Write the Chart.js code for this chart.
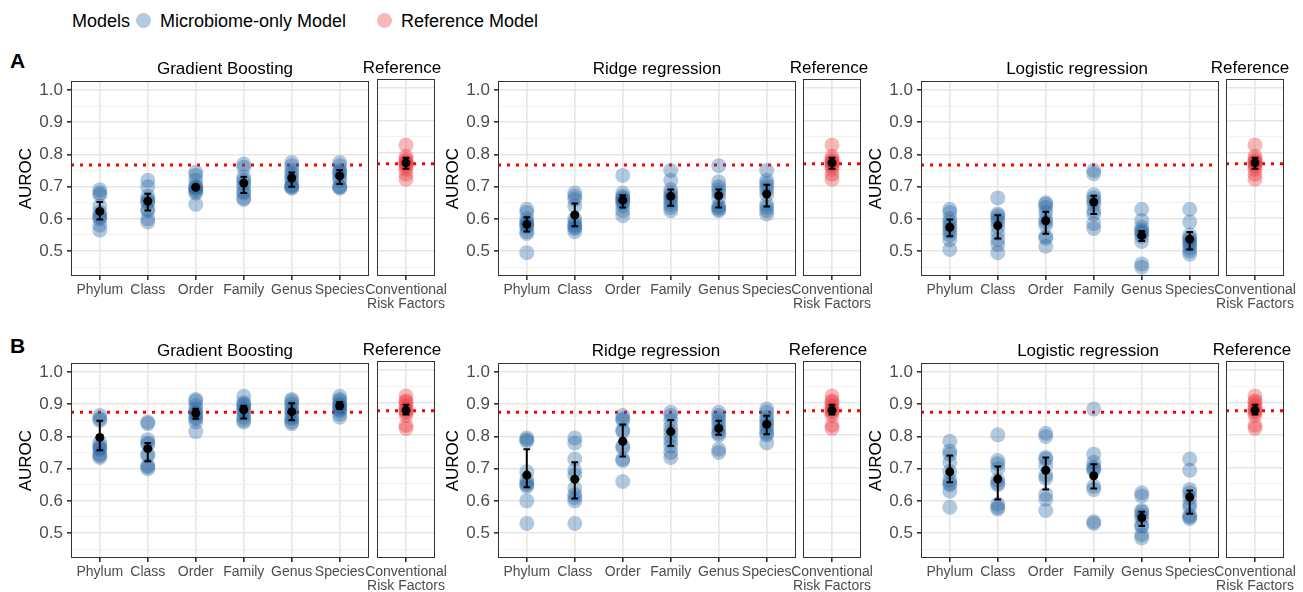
<!DOCTYPE html>
<html lang="en">
<head>
<meta charset="utf-8">
<title>AUROC by taxonomic level</title>
<script src="https://cdn.jsdelivr.net/npm/chart.js@4.4.1/dist/chart.umd.min.js"></script>
<style>
  body { margin: 0; background: #fff; font-family: "Liberation Sans", Arial, sans-serif; }
  #page { position: relative; width: 1303px; height: 592px; overflow: hidden; }
  .box { position: absolute; }
  .txt { position: absolute; white-space: nowrap; color: #000; line-height: 1; }
  .ttl { font-size: 17px; transform: translateX(-50%); }
  .tag { font-size: 21px; font-weight: bold; }
  .dot { position: absolute; width: 15px; height: 15px; border-radius: 50%; }
</style>
</head>
<body>
<div id="page">
  <div class="txt" style="left:72px;top:12px;font-size:18px">Models</div>
  <div class="dot" style="left:136px;top:13px;background:rgba(38,100,160,0.35)"></div>
  <div class="txt" style="left:160px;top:12px;font-size:18px">Microbiome-only Model</div>
  <div class="dot" style="left:377px;top:13px;background:rgba(235,50,55,0.35)"></div>
  <div class="txt" style="left:401px;top:12px;font-size:18px">Reference Model</div>

  <div class="txt tag" style="left:10px;top:50px">A</div>
  <div class="txt tag" style="left:10px;top:335px">B</div>
</div>

<script>
  // ---- data ----
  const levels = ["Phylum", "Class", "Order", "Family", "Genus", "Species"];
  const refLevels = [["Conventional", "Risk Factors"]];
  const yTicks = [0.5, 0.6, 0.7, 0.8, 0.9, 1.0];
  const yMinor = [0.45, 0.55, 0.65, 0.75, 0.85, 0.95];
  const hlineA = 0.767;
  const hlineB = 0.875;

  // A: gradient boosting
  const gbA = [
    [0.69, 0.68, 0.675, 0.64, 0.62, 0.61, 0.605, 0.6, 0.58, 0.565],
    [0.72, 0.70, 0.67, 0.66, 0.655, 0.65, 0.63, 0.625, 0.6, 0.59],
    [0.745, 0.735, 0.72, 0.70, 0.70, 0.695, 0.69, 0.685, 0.68, 0.645],
    [0.77, 0.76, 0.73, 0.72, 0.71, 0.70, 0.685, 0.68, 0.665, 0.66],
    [0.775, 0.765, 0.75, 0.74, 0.73, 0.72, 0.705, 0.70, 0.70, 0.695],
    [0.775, 0.765, 0.75, 0.745, 0.74, 0.73, 0.72, 0.70, 0.70, 0.695]
  ];
  const gbAMean = [0.623, 0.655, 0.698, 0.711, 0.727, 0.734];
  const gbALo = [0.598, 0.626, 0.693, 0.680, 0.700, 0.708];
  const gbAHi = [0.652, 0.678, 0.703, 0.731, 0.744, 0.752];

  // A: ridge regression
  const ridgeA = [
    [0.63, 0.62, 0.60, 0.59, 0.585, 0.58, 0.575, 0.56, 0.555, 0.495],
    [0.68, 0.67, 0.66, 0.64, 0.60, 0.59, 0.58, 0.575, 0.57, 0.56],
    [0.735, 0.68, 0.67, 0.665, 0.66, 0.655, 0.65, 0.64, 0.625, 0.61],
    [0.75, 0.72, 0.69, 0.68, 0.67, 0.665, 0.655, 0.645, 0.635, 0.625],
    [0.765, 0.715, 0.70, 0.69, 0.68, 0.665, 0.64, 0.635, 0.63, 0.625],
    [0.75, 0.72, 0.71, 0.70, 0.69, 0.675, 0.645, 0.635, 0.625, 0.615]
  ];
  const ridgeAMean = [0.583, 0.612, 0.658, 0.670, 0.672, 0.677];
  const ridgeALo = [0.561, 0.577, 0.635, 0.641, 0.635, 0.638];
  const ridgeAHi = [0.605, 0.648, 0.673, 0.691, 0.691, 0.706];

  // A: logistic regression
  const logA = [
    [0.63, 0.62, 0.60, 0.59, 0.58, 0.57, 0.56, 0.55, 0.535, 0.505],
    [0.665, 0.615, 0.61, 0.60, 0.59, 0.575, 0.555, 0.535, 0.52, 0.495],
    [0.65, 0.645, 0.635, 0.62, 0.60, 0.59, 0.58, 0.545, 0.54, 0.515],
    [0.75, 0.74, 0.675, 0.665, 0.655, 0.645, 0.625, 0.615, 0.585, 0.57],
    [0.63, 0.595, 0.575, 0.565, 0.56, 0.555, 0.545, 0.53, 0.46, 0.45],
    [0.63, 0.59, 0.55, 0.54, 0.535, 0.525, 0.52, 0.51, 0.50, 0.49]
  ];
  const logAMean = [0.574, 0.579, 0.594, 0.652, 0.548, 0.537];
  const logALo = [0.546, 0.539, 0.554, 0.615, 0.531, 0.505];
  const logAHi = [0.598, 0.611, 0.622, 0.672, 0.562, 0.559];

  // A: reference model
  const refA = [[0.825, 0.79, 0.78, 0.775, 0.77, 0.765, 0.76, 0.75, 0.735, 0.72]];
  const refAMean = [0.770];
  const refALo = [0.752];
  const refAHi = [0.786];

  // B: gradient boosting
  const gbB = [
    [0.865, 0.855, 0.85, 0.78, 0.77, 0.765, 0.76, 0.745, 0.74, 0.735],
    [0.845, 0.84, 0.79, 0.78, 0.775, 0.745, 0.74, 0.71, 0.705, 0.70],
    [0.915, 0.91, 0.895, 0.885, 0.875, 0.87, 0.86, 0.855, 0.845, 0.815],
    [0.925, 0.905, 0.90, 0.895, 0.885, 0.88, 0.87, 0.86, 0.85, 0.845],
    [0.915, 0.91, 0.90, 0.89, 0.88, 0.875, 0.86, 0.855, 0.845, 0.84],
    [0.925, 0.915, 0.91, 0.90, 0.895, 0.89, 0.885, 0.88, 0.87, 0.86]
  ];
  const gbBMean = [0.797, 0.762, 0.872, 0.883, 0.877, 0.895];
  const gbBLo = [0.757, 0.723, 0.855, 0.856, 0.850, 0.886];
  const gbBHi = [0.849, 0.780, 0.886, 0.895, 0.903, 0.907];

  // B: ridge regression
  const ridgeB = [
    [0.795, 0.79, 0.785, 0.69, 0.665, 0.655, 0.65, 0.645, 0.60, 0.53],
    [0.795, 0.78, 0.73, 0.695, 0.68, 0.64, 0.62, 0.61, 0.60, 0.53],
    [0.865, 0.855, 0.85, 0.82, 0.815, 0.77, 0.765, 0.73, 0.725, 0.66],
    [0.875, 0.865, 0.85, 0.83, 0.815, 0.80, 0.785, 0.77, 0.75, 0.735],
    [0.875, 0.865, 0.855, 0.845, 0.83, 0.82, 0.81, 0.805, 0.76, 0.75],
    [0.885, 0.875, 0.86, 0.85, 0.84, 0.83, 0.82, 0.81, 0.805, 0.78]
  ];
  const ridgeBMean = [0.680, 0.667, 0.785, 0.815, 0.825, 0.838];
  const ridgeBLo = [0.642, 0.607, 0.738, 0.771, 0.805, 0.807];
  const ridgeBHi = [0.760, 0.720, 0.837, 0.851, 0.849, 0.864];

  // B: logistic regression
  const logB = [
    [0.785, 0.755, 0.745, 0.72, 0.69, 0.665, 0.655, 0.65, 0.63, 0.58],
    [0.805, 0.725, 0.715, 0.70, 0.665, 0.655, 0.65, 0.59, 0.58, 0.575],
    [0.81, 0.80, 0.735, 0.73, 0.71, 0.68, 0.67, 0.62, 0.605, 0.57],
    [0.885, 0.745, 0.72, 0.705, 0.70, 0.695, 0.645, 0.635, 0.535, 0.53],
    [0.625, 0.615, 0.57, 0.565, 0.555, 0.545, 0.525, 0.52, 0.495, 0.485],
    [0.73, 0.695, 0.635, 0.625, 0.61, 0.59, 0.58, 0.555, 0.55, 0.545]
  ];
  const logBMean = [0.690, 0.668, 0.695, 0.678, 0.548, 0.612];
  const logBLo = [0.658, 0.604, 0.635, 0.638, 0.522, 0.560];
  const logBHi = [0.741, 0.707, 0.735, 0.714, 0.566, 0.632];

  // B: reference model
  const refB = [[0.92, 0.905, 0.90, 0.89, 0.88, 0.875, 0.87, 0.86, 0.83, 0.82]];
  const refBMean = [0.876];
  const refBLo = [0.863];
  const refBHi = [0.893];

  // ---- layout ----
  const mainLeft = [71, 498, 921];
  const refLeft = [377, 803, 1226];
  const rowTop = [79, 361];
  const plotW = 299, refW = 58, plotH = 197;
  const padTop = 12, axisH = 42, yAxisW = 56;

  const blue = 'rgba(38,100,160,0.35)';
  const red = 'rgba(235,50,55,0.35)';
  const capHalf = 0.07;

  const frame = {
    id: 'frame',
    afterDatasetsDraw(chart) {
      const a = chart.chartArea, ctx = chart.ctx;
      ctx.save();
      ctx.strokeStyle = '#333';
      ctx.lineWidth = 1;
      ctx.strokeRect(Math.round(a.left) + 0.5, Math.round(a.top) + 0.5, Math.round(a.width) - 1, Math.round(a.height) - 1);
      ctx.restore();
    }
  };

  function isMajor(v) {
    return yTicks.some(t => Math.abs(t - v) < 1e-6);
  }

  function addText(txt, cls, x, y) {
    const d = document.createElement('div');
    d.className = 'txt ' + cls;
    d.style.left = x + 'px';
    d.style.top = y + 'px';
    d.textContent = txt;
    document.getElementById('page').appendChild(d);
  }

  function makeChart(o) {
    const n = o.cats.length;
    const padL = o.showY ? 0 : 36;
    const padR = o.showY ? 6 : 36;
    const boxL = o.left - (o.showY ? yAxisW : padL);
    const w = o.width + (o.showY ? yAxisW : padL) + padR;
    const h = padTop + plotH + axisH;

    const wrap = document.createElement('div');
    wrap.className = 'box';
    wrap.style.left = boxL + 'px';
    wrap.style.top = (o.top - padTop) + 'px';
    const cv = document.createElement('canvas');
    cv.width = w;
    cv.height = h;
    cv.style.width = w + 'px';
    cv.style.height = h + 'px';
    wrap.appendChild(cv);
    document.getElementById('page').appendChild(wrap);

    const pts = [];
    o.pts.forEach((arr, i) => arr.forEach(v => pts.push({x: i + 1, y: v})));
    const bars = [];
    for (let i = 0; i < n; i++) {
      const c = i + 1;
      bars.push({x: c - capHalf, y: o.lo[i]}, {x: c + capHalf, y: o.lo[i]}, {x: c, y: null});
      bars.push({x: c, y: o.lo[i]}, {x: c, y: o.hi[i]}, {x: c, y: null});
      bars.push({x: c - capHalf, y: o.hi[i]}, {x: c + capHalf, y: o.hi[i]}, {x: c, y: null});
    }
    const means = o.mean.map((v, i) => ({x: i + 1, y: v}));

    new Chart(cv, {
      type: 'scatter',
      data: {
        datasets: [
          {data: [{x: 0.4, y: o.hline}, {x: n + 0.6, y: o.hline}], showLine: true, pointRadius: 0,
           borderColor: '#ff0000', borderWidth: 3, borderDash: [3, 6], order: 4},
          {data: pts, pointRadius: 7.5, backgroundColor: o.color, borderWidth: 0, order: 3},
          {data: bars, showLine: true, spanGaps: false, pointRadius: 0, borderColor: '#000', borderWidth: 2, order: 2},
          {data: means, pointRadius: 4.5, backgroundColor: '#000', borderWidth: 0, order: 1}
        ]
      },
      options: {
        responsive: false,
        animation: false,
        events: [],
        layout: {padding: {top: padTop, left: padL, right: padR, bottom: 0}},
        plugins: {legend: {display: false}, tooltip: {enabled: false}},
        scales: {
          x: {
            type: 'linear', min: 0.4, max: n + 0.6,
            afterBuildTicks: s => { s.ticks = o.cats.map((c, i) => ({value: i + 1})); },
            afterFit: s => { s.height = axisH; },
            ticks: {
              callback: (v, i) => o.cats[i],
              autoSkip: false, maxRotation: 0, minRotation: 0,
              color: '#4d4d4d', padding: 3,
              font: {family: '"Liberation Sans", Arial, sans-serif', size: 14, lineHeight: 1}
            },
            grid: {color: '#e6e6e6', lineWidth: 1.6, tickLength: 4, tickColor: '#333'},
            border: {display: false}
          },
          y: {
            type: 'linear', min: 0.4225, max: 1.0275,
            afterBuildTicks: s => { s.ticks = yMinor.concat(yTicks).sort((a, b) => a - b).map(v => ({value: v})); },
            afterFit: s => { s.width = o.showY ? yAxisW : 0; },
            ticks: {
              display: o.showY, autoSkip: false,
              callback: v => isMajor(v) ? v.toFixed(1) : '',
              color: '#4d4d4d', padding: 4,
              font: {family: '"Liberation Sans", Arial, sans-serif', size: 17}
            },
            title: {
              display: o.showY, text: 'AUROC', color: '#000', padding: 1,
              font: {family: '"Liberation Sans", Arial, sans-serif', size: 17}
            },
            grid: {
              color: ctx => isMajor(ctx.tick.value) ? '#e6e6e6' : '#f0f0f0',
              lineWidth: ctx => isMajor(ctx.tick.value) ? 1.6 : 0.9,
              drawTicks: o.showY, tickLength: 4,
              tickColor: ctx => isMajor(ctx.tick.value) ? '#333' : 'rgba(0,0,0,0)'
            },
            border: {display: false}
          }
        }
      },
      plugins: [frame]
    });
  }

  const rows = [
    {hline: hlineA, ref: [refA, refAMean, refALo, refAHi], models: [
      ['Gradient Boosting', gbA, gbAMean, gbALo, gbAHi],
      ['Ridge regression', ridgeA, ridgeAMean, ridgeALo, ridgeAHi],
      ['Logistic regression', logA, logAMean, logALo, logAHi]]},
    {hline: hlineB, ref: [refB, refBMean, refBLo, refBHi], models: [
      ['Gradient Boosting', gbB, gbBMean, gbBLo, gbBHi],
      ['Ridge regression', ridgeB, ridgeBMean, ridgeBLo, ridgeBHi],
      ['Logistic regression', logB, logBMean, logBLo, logBHi]]}
  ];
  const titleX = [[225, 657, 1077], [225, 656, 1088]];
  const refTitleX = [[402, 829, 1250], [402, 828, 1252]];

  rows.forEach((row, r) => {
    row.models.forEach((m, c) => {
      makeChart({left: mainLeft[c], top: rowTop[r], width: plotW, cats: levels, showY: true,
                 pts: m[1], mean: m[2], lo: m[3], hi: m[4], hline: row.hline, color: blue});
      makeChart({left: refLeft[c], top: rowTop[r], width: refW, cats: refLevels, showY: false,
                 pts: row.ref[0], mean: row.ref[1], lo: row.ref[2], hi: row.ref[3], hline: row.hline, color: red});
      addText(m[0], 'ttl', titleX[r][c], rowTop[r] - 19);
      addText('Reference', 'ttl', refTitleX[r][c], rowTop[r] - 20);
    });
  });
</script>
</body>
</html>
